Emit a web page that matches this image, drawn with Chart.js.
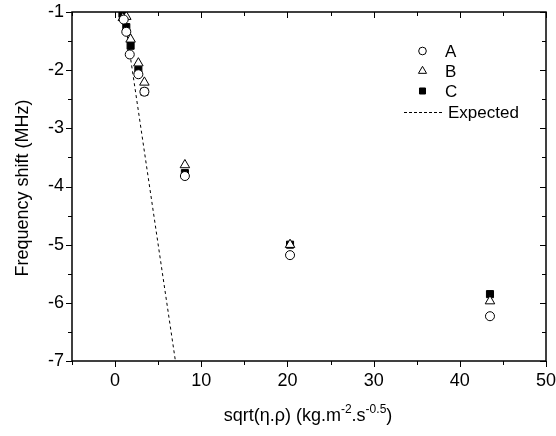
<!DOCTYPE html>
<html>
<head>
<meta charset="utf-8">
<script src="https://cdn.jsdelivr.net/npm/chart.js@4.4.0/dist/chart.umd.min.js"></script>
<style>
  html, body { margin: 0; padding: 0; background: #fff; }
</style>
</head>
<body>
<canvas id="chart" width="556" height="436"></canvas>
<script>
// 数据
const xTicks = [0, 10, 20, 30, 40, 50];
const yTicks = [-1, -2, -3, -4, -5, -6, -7];

const sqrtA = [1.0, 1.3, 1.7, 2.7, 3.4, 8.1, 20.3, 43.5];
const shiftA = [-1.13, -1.34, -1.73, -2.07, -2.37, -3.82, -5.18, -6.23];

const sqrtB = [0.9, 1.3, 1.8, 2.7, 3.4, 8.1, 20.3, 43.5];
const shiftB = [-1.10, -1.08, -1.47, -1.88, -2.21, -3.63, -5.00, -5.97];

const sqrtC = [0.85, 1.3, 1.8, 2.7, 3.4, 8.1, 20.3, 43.5];
const shiftC = [-1.03, -1.26, -1.58, -2.00, -2.37, -3.77, -5.00, -5.85];

const expectedX = [1, 7];
const expectedY = [-1, -7];

const FONT = '"Liberation Sans", Arial, sans-serif';

function toPoints(xs, ys) {
    return xs.map((x, i) => ({ x: x, y: ys[i] }));
}

// 边框、刻度、标题和图例
const framePlugin = {
    id: 'frame',
    afterDraw(chart) {
        const ctx = chart.ctx;
        const a = chart.chartArea;
        const sx = chart.scales.x;
        const sy = chart.scales.y;
        ctx.save();
        ctx.strokeStyle = '#000';
        ctx.lineWidth = 1.5;
        ctx.strokeRect(a.left, a.top, a.right - a.left, a.bottom - a.top);

        ctx.lineWidth = 1;
        ctx.beginPath();
        // x 轴刻度 (下方向外, 上方向内)
        for (let v = -5; v <= 50; v += 5) {
            const px = Math.round(sx.getPixelForValue(v)) + 0.5;
            const len = (v % 10 === 0) ? 6 : 4;
            ctx.moveTo(px, a.bottom); ctx.lineTo(px, a.bottom + len);
            ctx.moveTo(px, a.top); ctx.lineTo(px, a.top + len);
        }
        // y 轴刻度 (左侧向外, 右侧向内)
        for (let v = -7; v <= -1; v += 0.5) {
            const py = Math.round(sy.getPixelForValue(v)) + 0.5;
            const len = Number.isInteger(v) ? 6 : 4;
            ctx.moveTo(a.left, py); ctx.lineTo(a.left - len, py);
            ctx.moveTo(a.right, py); ctx.lineTo(a.right - len, py);
        }
        ctx.stroke();

        ctx.fillStyle = '#000';
        // y 轴标题
        ctx.font = '18px ' + FONT;
        ctx.textAlign = 'center';
        ctx.textBaseline = 'middle';
        ctx.save();
        ctx.translate(23, 188);
        ctx.rotate(-Math.PI / 2);
        ctx.fillText('Frequency shift (MHz)', 0, 0);
        ctx.restore();

        // x 轴标题 (带上标)
        const parts = [
            { t: 'sqrt(\u03B7.\u03C1) (kg.m', sup: false },
            { t: '-2', sup: true },
            { t: '.s', sup: false },
            { t: '-0.5', sup: true },
            { t: ')', sup: false }
        ];
        let total = 0;
        parts.forEach(p => {
            ctx.font = (p.sup ? '12px ' : '18px ') + FONT;
            p.w = ctx.measureText(p.t).width;
            total += p.w;
        });
        let cx = 308 - total / 2;
        ctx.textAlign = 'left';
        ctx.textBaseline = 'alphabetic';
        parts.forEach(p => {
            ctx.font = (p.sup ? '12px ' : '18px ') + FONT;
            ctx.fillText(p.t, cx, p.sup ? 413 : 421);
            cx += p.w;
        });

        // 图例
        const rows = [51, 71, 91, 112];
        const labels = ['A', 'B', 'C', 'Expected'];
        ctx.font = '17px ' + FONT;
        ctx.textBaseline = 'middle';
        for (let i = 0; i < 3; i++) {
            const ds = chart.data.datasets[i];
            ctx.fillStyle = ds.backgroundColor;
            ctx.strokeStyle = '#000';
            ctx.lineWidth = 1;
            Chart.helpers.drawPoint(ctx, {
                pointStyle: ds.pointStyle,
                radius: ds.pointRadius * 0.85,
                rotation: 0,
                borderWidth: 1
            }, 422.5, rows[i]);
        }
        ctx.setLineDash([3, 2]);
        ctx.beginPath();
        ctx.moveTo(404, rows[3] + 0.5);
        ctx.lineTo(443, rows[3] + 0.5);
        ctx.stroke();
        ctx.setLineDash([]);
        ctx.fillStyle = '#000';
        labels.forEach((l, i) => {
            ctx.fillText(l, i < 3 ? 445 : 448, rows[i] + 1);
        });
        ctx.restore();
    }
};

const chart = new Chart(document.getElementById('chart'), {
    type: 'scatter',
    data: {
        datasets: [
            {
                label: 'A',
                data: toPoints(sqrtA, shiftA),
                pointStyle: 'circle',
                pointRadius: 4.5,
                borderColor: '#000',
                backgroundColor: '#fff',
                borderWidth: 1
            },
            {
                label: 'B',
                data: toPoints(sqrtB, shiftB),
                pointStyle: 'triangle',
                pointRadius: 5.5,
                borderColor: '#000',
                backgroundColor: '#fff',
                borderWidth: 1
            },
            {
                label: 'C',
                data: toPoints(sqrtC, shiftC),
                pointStyle: 'rect',
                pointRadius: 5,
                borderColor: '#000',
                backgroundColor: '#000',
                borderWidth: 1
            },
            {
                label: 'Expected',
                data: toPoints(expectedX, expectedY),
                showLine: true,
                pointRadius: 0,
                borderColor: '#000',
                borderWidth: 1,
                borderDash: [3, 3]
            }
        ]
    },
    options: {
        responsive: false,
        animation: false,
        devicePixelRatio: 1,
        layout: { padding: { top: 12, right: 10, left: 0, bottom: 0 } },
        plugins: {
            legend: { display: false },
            tooltip: { enabled: false }
        },
        scales: {
            x: {
                type: 'linear',
                min: -5,
                max: 50,
                afterBuildTicks: s => { s.ticks = xTicks.map(v => ({ value: v })); },
                afterFit: s => { s.height = 75; s.paddingLeft = 0; s.paddingRight = 0; },
                grid: { display: false, drawTicks: false },
                border: { display: false },
                ticks: { color: '#000', font: { family: FONT, size: 18 }, padding: 9, maxRotation: 0 }
            },
            y: {
                type: 'linear',
                min: -7,
                max: -1,
                afterBuildTicks: s => { s.ticks = yTicks.map(v => ({ value: v })); },
                afterFit: s => { s.width = 72; s.paddingTop = 0; s.paddingBottom = 0; },
                grid: { display: false, drawTicks: false },
                border: { display: false },
                ticks: { color: '#000', font: { family: FONT, size: 18 }, padding: 8 }
            }
        }
    },
    plugins: [framePlugin]
});
</script>
</body>
</html>
